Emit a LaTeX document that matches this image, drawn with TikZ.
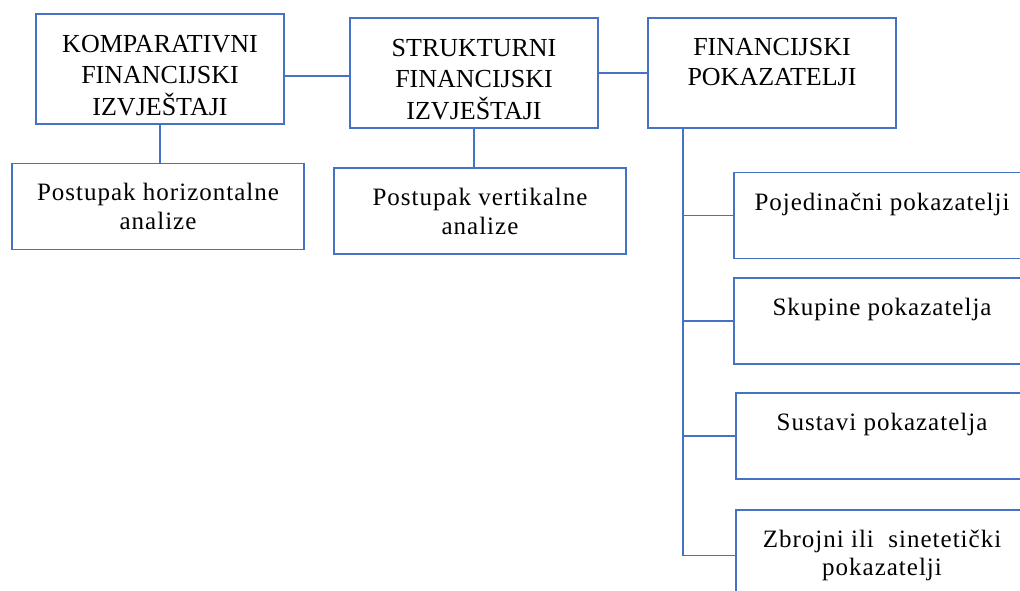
\documentclass[tikz,border=0pt]{standalone}
\usepackage{fontspec}
\setmainfont{Liberation Serif}
\newfontfamily\spacedfont[LetterSpace=4]{Liberation Serif}
\usetikzlibrary{positioning}
\definecolor{boxblue}{RGB}{68,114,196}
\tikzset{box/.style={draw=boxblue,line width=1.3pt,align=center,inner sep=0pt}}
\tikzset{capsbox/.style={box,minimum width=248pt,minimum height=110pt,
    font=\fontsize{26}{31.5}\selectfont,text height=92pt,text depth=0pt}}
\tikzset{stepbox/.style={box,minimum width=292pt,minimum height=86pt,
    font=\spacedfont\fontsize{25}{29}\selectfont}}
\tikzset{pokbox/.style={box,minimum width=296pt,minimum height=86pt,
    font=\spacedfont\fontsize{25}{28}\selectfont,text height=18pt,text depth=29pt}}
\tikzset{link/.style={draw=boxblue,line width=1.3pt}}

\begin{document}
\begin{tikzpicture}[x=1pt,y=-1pt]
  \useasboundingbox (0,0) rectangle (1020,590);
  \clip (0,0) rectangle (1020,590);
  \node[capsbox] (komp) at (160,69) {KOMPARATIVNI\\FINANCIJSKI\\IZVJEŠTAJI};
  \node[capsbox] (strukt) at (474,73) {STRUKTURNI\\FINANCIJSKI\\IZVJEŠTAJI};
  \node[capsbox,font=\fontsize{26}{30}\selectfont,text height=,text depth=23pt]
    (fin) at (772,73) {FINANCIJSKI\\POKAZATELJI};
  \node[stepbox] (horiz) at (158,206.5) {Postupak horizontalne\\analize};
  \node[stepbox] (vert) at (480,211) {Postupak vertikalne\\analize};
  \node[pokbox] (pok1) at (882,215.5) {Pojedinačni pokazatelji};
  \node[pokbox] (pok2) at (882,321) {Skupine pokazatelja};
  \node[pokbox,minimum width=292pt] (pok3) at (882,436) {Sustavi pokazatelja};
  \node[pokbox,minimum width=292pt,minimum height=91pt,text height=,text depth=]
    (pok4) at (882,555.5) {Zbrojni ili \ sinetetički\\pokazatelji};
  \coordinate (trunk) at (683,0);
  % top row
  \draw[link] ([yshift=-7pt]komp.east) -- ([yshift=-7pt]komp.east -| strukt.west);
  \draw[link] (strukt.east) -- (fin.west);
  \draw[link] (komp.south) -- (komp.south |- horiz.north);
  \draw[link] (strukt.south) -- (strukt.south |- vert.north);
  % indicators
  \draw[link] (fin.south -| trunk) -- (pok4.west -| trunk);
  \foreach \i in {1,2,3,4}{
    \draw[link] (pok\i.west) -- (pok\i.west -| trunk);
  };
\end{tikzpicture}
\end{document}
